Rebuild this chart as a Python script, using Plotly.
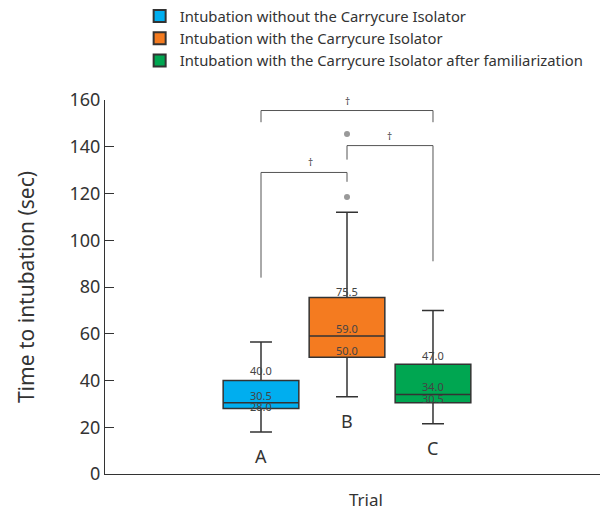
import plotly.graph_objects as go

categories = ["A", "B", "C"]
series_names = [
    "Intubation without the Carrycure Isolator",
    "Intubation with the Carrycure Isolator",
    "Intubation with the Carrycure Isolator after familiarization",
]
lower_whisker = [18.0, 33.0, 21.5]
q1_values = [28.0, 50.0, 30.5]
median_values = [30.5, 59.0, 34.0]
q3_values = [40.0, 75.5, 47.0]
upper_whisker = [56.5, 112.0, 70.0]
outliers_b = [118.5, 145.5]
# comparisons: (left group idx, right group idx, bracket level, left leg end, right leg end)
comparisons = [
    (0, 1, 129.0, 84.0, 125.0),
    (1, 2, 140.5, 134.5, 91.0),
    (0, 2, 155.5, 150.5, 150.5),
]
y_ticks = [0, 20, 40, 60, 80, 100, 120, 140, 160]

colors = ["#00AEEF", "#F47B20", "#00A651"]
positions = [1, 2, 3]
FONT = "Noto Sans"

fig = go.Figure()
for i in range(3):
    fig.add_trace(go.Box(
        x=[positions[i]], q1=[q1_values[i]], median=[median_values[i]],
        q3=[q3_values[i]], lowerfence=[lower_whisker[i]], upperfence=[upper_whisker[i]],
        fillcolor=colors[i], line=dict(color="#333333", width=1.5),
        width=0.88, whiskerwidth=0.29, showlegend=False, hoverinfo="skip",
    ))

fig.add_trace(go.Scatter(
    x=[positions[1]] * len(outliers_b), y=outliers_b, mode="markers",
    marker=dict(color="#999999", size=6), showlegend=False, hoverinfo="skip",
))

for i in range(3):
    fig.add_trace(go.Scatter(
        x=[None], y=[None], mode="markers", name=series_names[i],
        marker=dict(symbol="square", size=10, color=colors[i],
                    line=dict(color="#333333", width=1)),
    ))

# value labels
label_shifts = [[10, 7, 2], [6, 8, 7], [9, 8, 4]]
for i in range(3):
    for j, v in enumerate([q3_values[i], median_values[i], q1_values[i]]):
        fig.add_annotation(
            x=positions[i], y=v, text=f"{v:.1f}", showarrow=False,
            yanchor="middle", yshift=label_shifts[i][j],
            font=dict(size=11, color="#444444", family=FONT),
        )
    fig.add_annotation(
        x=positions[i], y=lower_whisker[i], text=categories[i], showarrow=False,
        yanchor="top", yshift=-10,
        font=dict(size=18, color="#333333", family=FONT),
    )

# significance brackets
for (a, b, lvl, la, lb) in comparisons:
    xa, xb = positions[a], positions[b]
    fig.add_shape(type="path",
                  path=f"M {xa},{la} L {xa},{lvl} L {xb},{lvl} L {xb},{lb}",
                  line=dict(color="#555555", width=1))
    fig.add_annotation(
        x=(xa + xb) / 2 + (0.07 if b - a == 1 and a == 0 else 0), y=lvl,
        text="†", showarrow=False, yanchor="bottom", yshift=1,
        font=dict(size=10, color="#444444"),
    )

fig.add_annotation(
    x=0.527, y=0, xref="paper", yref="paper", yshift=-12, yanchor="top",
    text="Trial", showarrow=False,
    font=dict(size=17, color="#333333", family=FONT),
)

fig.update_layout(
    width=602, height=510,
    margin=dict(l=105, r=2, t=100, b=36),
    paper_bgcolor="white", plot_bgcolor="white",
    font=dict(family=FONT, color="#333333"),
    legend=dict(x=0.07, y=1.01, xanchor="left", yanchor="top",
                xref="paper", yref="container",
                font=dict(size=14.8, color="#333333", family=FONT),
                bgcolor="rgba(0,0,0,0)",
                itemsizing="constant", tracegroupgap=0),
    xaxis=dict(range=[-0.814, 4.942], showgrid=False, zeroline=False,
               showticklabels=False, ticks="", showline=True,
               linecolor="#333333", linewidth=1),
    yaxis=dict(range=[0, 160], tickvals=y_ticks, showgrid=False, zeroline=False,
               ticks="inside", ticklen=9, tickcolor="#333333", showline=True,
               linecolor="#333333", linewidth=1,
               tickfont=dict(size=18, color="#333333", family=FONT),
               title=dict(text="Time to intubation (sec)",
                          font=dict(size=21, color="#333333", family=FONT), standoff=29)),
)

fig.write_html("out.html", config={"displayModeBar": False},
               post_script="document.body.style.margin='0';")
